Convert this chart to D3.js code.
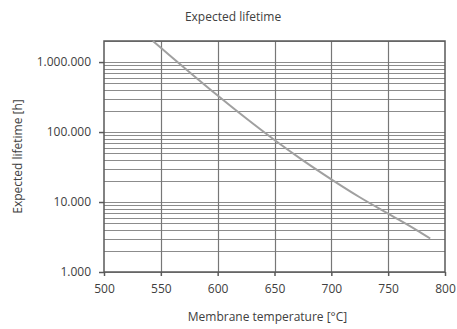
<!DOCTYPE html>
<html>
<head>
<meta charset="utf-8">
<script src="https://cdn.jsdelivr.net/npm/d3@7"></script>
<style>
  body { margin: 0; background: #fff; }
  text { font-family: "Open Sans", "Liberation Sans", sans-serif; fill: #404040; }
</style>
</head>
<body>
<div id="chart"></div>
<script>
// membrane temperature [°C] vs expected lifetime [h]
const temps = [543, 550, 575, 600, 625, 650, 675, 700, 725, 750, 775, 787];
const lifetimes = [2000000, 1600000, 722000, 332000, 157000, 76900, 39400, 21100, 11700, 6820, 3970, 3010];
const xTicks = [500, 550, 600, 650, 700, 750, 800];
const yTicks = [1000, 10000, 100000, 1000000];

const width = 457, height = 329;
const margin = {top: 41, right: 12, bottom: 57, left: 104};

const svg = d3.select('#chart').append('svg')
  .attr('width', width)
  .attr('height', height);

const x = d3.scaleLinear()
  .domain([500, 800])
  .range([margin.left, width - margin.right]);

const y = d3.scaleLog()
  .domain([1000, 2000000])
  .range([height - margin.bottom, margin.top]);

// minor + major horizontal grid (1..9 per decade)
let gridY = [];
for (let d = 1000; d <= 1000000; d *= 10) {
  for (let k = 1; k <= 9; k++) {
    const v = d * k;
    if (v <= 2000000) gridY.push(v);
  }
}

svg.append('g')
  .attr('stroke', '#8c8c8c')
  .attr('stroke-width', 1)
  .selectAll('line')
  .data(gridY)
  .join('line')
    .attr('x1', x(500))
    .attr('x2', x(800))
    .attr('y1', d => Math.round(y(d)) + 0.5)
    .attr('y2', d => Math.round(y(d)) + 0.5);

svg.append('g')
  .attr('stroke', '#777')
  .attr('stroke-width', 1.2)
  .selectAll('line')
  .data(xTicks.slice(1, -1))
  .join('line')
    .attr('x1', d => Math.round(x(d)) + 0.5)
    .attr('x2', d => Math.round(x(d)) + 0.5)
    .attr('y1', y(2000000))
    .attr('y2', y(1000));

// frame
svg.append('rect')
  .attr('x', x(500))
  .attr('y', y(2000000))
  .attr('width', x(800) - x(500))
  .attr('height', y(1000) - y(2000000))
  .attr('fill', 'none')
  .attr('stroke', '#595959')
  .attr('stroke-width', 1.5);

const fmt = d3.format(',');

svg.append('g')
  .attr('transform', `translate(0,${y(1000)})`)
  .call(d3.axisBottom(x).tickValues(xTicks).tickSize(4).tickPadding(8).tickFormat(d3.format('d')))
  .call(g => g.select('.domain').remove())
  .call(g => g.selectAll('line').attr('stroke', '#595959').attr('stroke-width', 1.5))
  .call(g => g.selectAll('text').style('font-size', '12px').attr('fill', '#404040'));

svg.append('g')
  .attr('transform', `translate(${x(500)},0)`)
  .call(d3.axisLeft(y).tickValues(yTicks).tickSize(5).tickPadding(8)
    .tickFormat(d => fmt(d).replace(/,/g, '.')))
  .call(g => g.select('.domain').remove())
  .call(g => g.selectAll('line').attr('stroke', '#595959').attr('stroke-width', 1.5))
  .call(g => g.selectAll('text').style('font-size', '12px').attr('fill', '#404040'));

// curve
const line = d3.line()
  .x((d, i) => x(temps[i]))
  .y(d => y(d))
  .curve(d3.curveMonotoneX);

svg.append('path')
  .datum(lifetimes)
  .attr('fill', 'none')
  .attr('stroke', '#a0a0a0')
  .attr('stroke-width', 2)
  .attr('d', line);

// titles
svg.append('text')
  .attr('x', 233)
  .attr('y', 21)
  .attr('text-anchor', 'middle')
  .style('font-size', '12px')
  .text('Expected lifetime');

svg.append('text')
  .attr('x', (x(500) + x(800)) / 2 - 7)
  .attr('y', 321)
  .attr('text-anchor', 'middle')
  .style('font-size', '12px')
  .text('Membrane temperature [°C]');

svg.append('text')
  .attr('transform', `translate(22,${(y(1000) + y(2000000)) / 2}) rotate(-90)`)
  .attr('text-anchor', 'middle')
  .style('font-size', '12px')
  .text('Expected lifetime [h]');
</script>
</body>
</html>
